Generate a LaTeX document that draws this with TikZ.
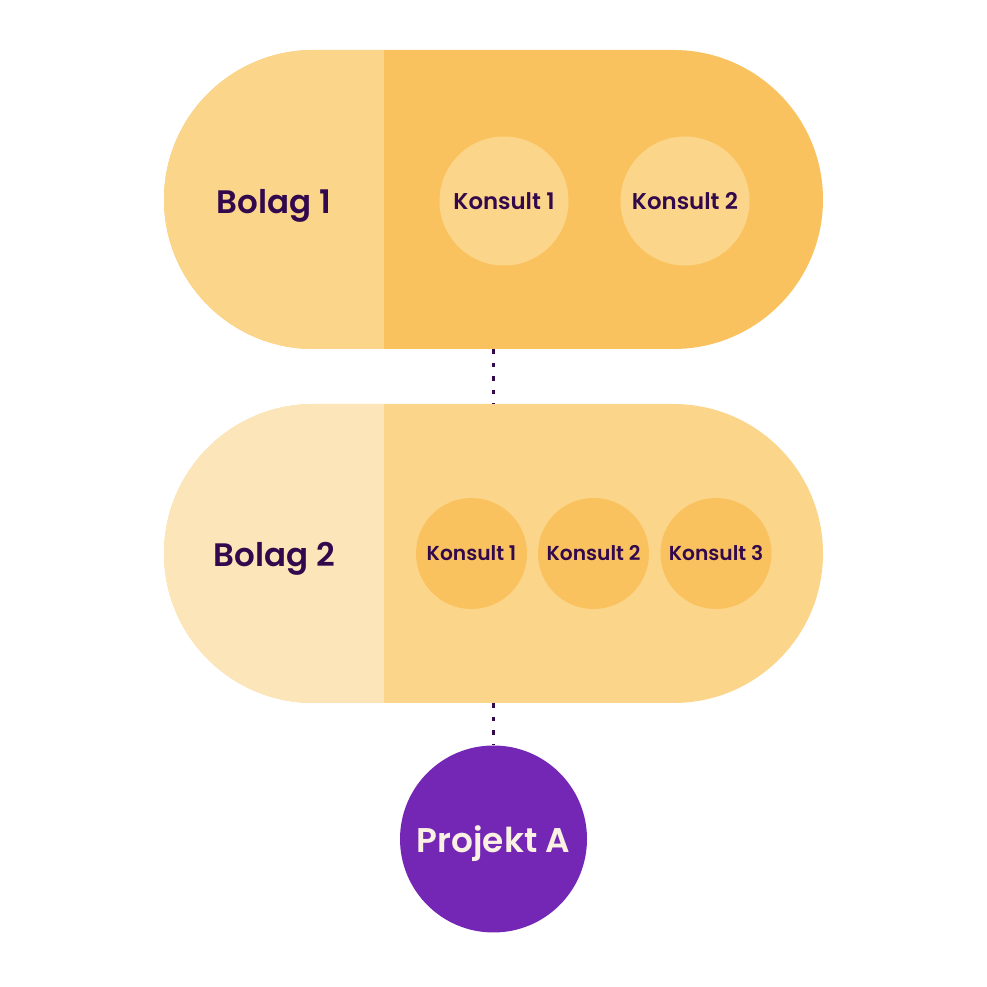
\documentclass[tikz,border=0pt]{standalone}
\usepackage{fontspec}
\setmainfont{Poppins}[BoldFont={Poppins SemiBold}]
\usetikzlibrary{shapes.misc, positioning}

\definecolor{paleYellow}{HTML}{FDE5BA}
\definecolor{midYellow}{HTML}{FBD58A}
\definecolor{darkYellow}{HTML}{FAC25E}
\definecolor{projPurple}{HTML}{7327B4}
\definecolor{inkPurple}{HTML}{33094D}
\definecolor{cream}{HTML}{FAF0E4}

\begin{document}
\begin{tikzpicture}[
    bolag/.style={rounded rectangle, minimum width=13.18cm, minimum height=5.98cm, inner sep=0pt},
    label/.style={text=inkPurple, text depth=0pt, font=\bfseries\fontsize{18.5}{22}\selectfont},
    konsult/.style={circle, inner sep=0pt, text=inkPurple, font=\bfseries\fontsize{13}{15}\selectfont},
    konsultsmall/.style={circle, inner sep=0pt, minimum size=2.22cm, text=inkPurple, font=\bfseries\fontsize{11.5}{14}\selectfont},
    dots/.style={draw=inkPurple, line width=0.07cm, dash pattern=on 0.09cm off 0.18cm}
]
\useasboundingbox (0,0) rectangle (19.74,19.74);
\node[bolag, fill=darkYellow, path picture={\fill[midYellow] (path picture bounding box.south west) rectangle ++(4.4,5.98);}] (bolag1) at (9.87,15.75) {};
\node[bolag, fill=midYellow, path picture={\fill[paleYellow] (path picture bounding box.south west) rectangle ++(4.4,5.98);}] (bolag2) at (9.87,8.67) {};
\node[label] (bolagOne) at (5.48,15.72) {Bolag 1};
\node[label] (bolagTwo) at (5.49,8.66) {Bolag 2};
\node[konsult, minimum size=2.58cm, fill=midYellow] (k11) at (10.08,15.72) {Konsult 1};
\node[konsult, minimum size=2.58cm, fill=midYellow] (k12) at (13.70,15.72) {Konsult 2};
\node[konsultsmall, fill=darkYellow] (k21) at (9.43,8.67) {Konsult 1};
\node[konsultsmall, fill=darkYellow] (k22) at (11.87,8.67) {Konsult 2};
\node[konsultsmall, fill=darkYellow] (k23) at (14.32,8.67) {Konsult 3};
\node[circle, fill=projPurple, minimum size=3.74cm, inner sep=0pt, text=cream, text depth=0pt, font=\bfseries\fontsize{19.5}{22}\selectfont] (projekt) at (9.87,2.96) {Projekt A};
\draw[dots] (bolag1.south) -- (bolag2.north);
\draw[dots] (bolag2.south) -- (projekt.north);
\end{tikzpicture}
\end{document}
